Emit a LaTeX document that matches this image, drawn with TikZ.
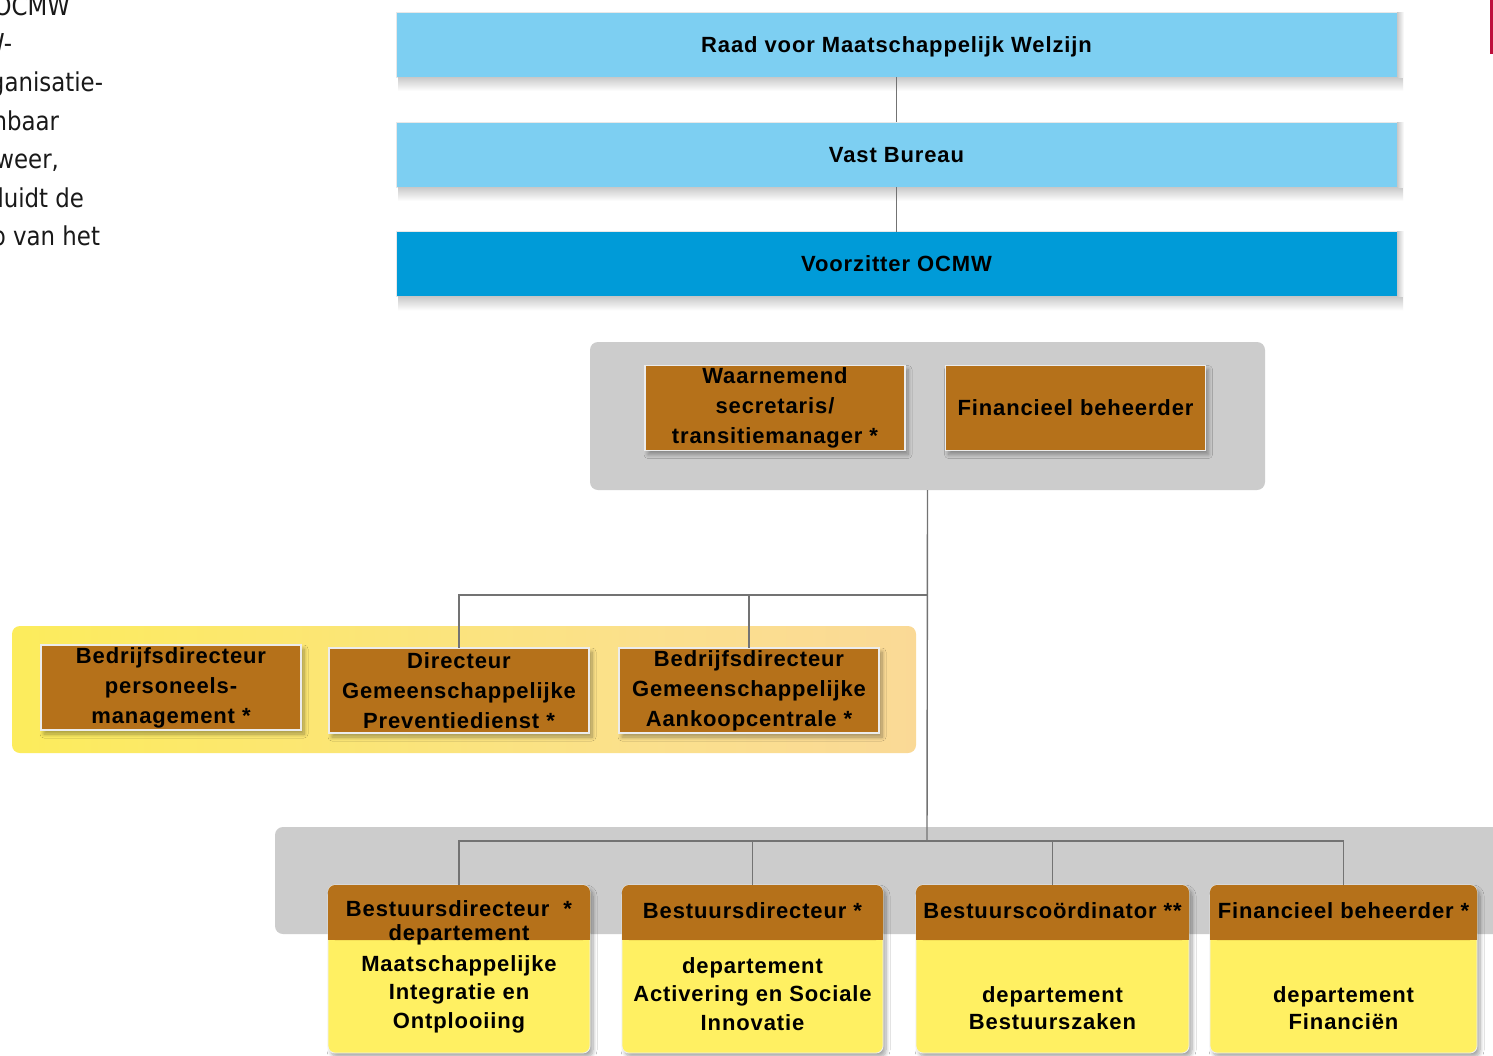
\documentclass[tikz,border=0pt]{standalone}
\usepackage{fontspec}
\usetikzlibrary{shadows.blur}
\newfontfamily\boxfont{Liberation Sans}[LetterSpace=4]
\newfontfamily\leftfont{DejaVu Sans}[FakeStretch=0.88]
\definecolor{lblue}{RGB}{125,207,242}
\definecolor{dblue}{RGB}{0,155,216}
\definecolor{brownbox}{RGB}{181,113,26}
\definecolor{yellowbox}{RGB}{255,240,98}
\definecolor{panelgray}{RGB}{204,204,204}
\definecolor{linegray}{RGB}{115,115,115}
\definecolor{redbar}{RGB}{190,16,60}
\definecolor{shadowgray}{RGB}{200,200,200}
\definecolor{yl1}{RGB}{252,223,140}
\definecolor{yl2}{RGB}{252,236,92}
\definecolor{yl3}{RGB}{251,224,140}
\definecolor{yl4}{RGB}{249,206,168}
\pgfdeclarehorizontalshading{ypanel}{100bp}{color(0bp)=(yl1); color(25bp)=(yl2); color(60bp)=(yl3); color(100bp)=(yl4)}
\tikzset{
  every node/.style={inner sep=0pt, outer sep=0pt},
  txt/.style={font=\boxfont\bfseries\fontsize{22}{30}\selectfont, text=black, align=center},
  bluebox/.style={rectangle, minimum width=1001pt, minimum height=65pt, draw=white!82!gray, line width=0.8pt, txt},
  blueshadow/.style={top color=shadowgray, bottom color=white},
  brownnode/.style={rectangle, fill=brownbox, draw=white!85!gray, line width=1.2pt, minimum width=260pt, minimum height=85pt,
    txt, blur shadow={shadow xshift=3pt, shadow yshift=-4pt, shadow blur radius=4pt, shadow blur steps=8, shadow opacity=35}},
  panel/.style={rectangle, rounded corners=8pt, fill=panelgray},
  botbox/.style={rectangle, rounded corners=7pt, fill=yellowbox, draw=white!88!gray, line width=0.8pt, minimum height=168pt,
    blur shadow={shadow xshift=3pt, shadow yshift=-4pt, shadow blur radius=4pt, shadow blur steps=8, shadow opacity=35}},
  hdr/.style={rectangle, rounded corners=7pt, fill=brownbox, minimum height=55pt},
  conn/.style={draw=linegray, line width=1.4pt},
  lefttxt/.style={font=\leftfont\fontsize{26}{26}\selectfont, anchor=base east, text=black!90}
}
\begin{document}
\begin{tikzpicture}[x=1pt,y=-1pt]
\useasboundingbox (0,0) rectangle (1493,1055);
\fill[white] (0,0) rectangle (1493,1055);
% left clipped text
\node[lefttxt] (l1) at (70,15) {OCMW};
\node[lefttxt] (l2) at (12,52) {W-};
\node[lefttxt] (l3) at (103,91) {ganisatie-};
\node[lefttxt] (l4) at (59,130) {nbaar};
\node[lefttxt] (l5) at (59,168) {weer,};
\node[lefttxt] (l6) at (84,207) {duidt de};
\node[lefttxt] (l7) at (100,245) {p van het};
% red bar
\draw[redbar, line width=3pt] (1491,0) -- (1491,54);
% top blue boxes
\node[bluebox, fill=lblue, text depth=-2pt] (raad) at (896.5,44.5) {Raad voor Maatschappelijk Welzijn};
\node[bluebox, fill=lblue, text depth=-2pt] (vast) at (896.5,154.5) {Vast Bureau};
\node[bluebox, fill=dblue] (voorz) at (896.5,264) {Voorzitter OCMW};
\foreach \n in {raad,vast,voorz}{
  \shade[blueshadow] ([xshift=2pt]\n.south west) rectangle ([xshift=6pt,yshift=-14pt]\n.south east);
  \shade[left color=shadowgray, right color=white] (\n.north east) rectangle ([xshift=7pt]\n.south east);
}
\draw[conn] (raad.south) -- (vast.north);
\draw[conn] (vast.south) -- (voorz.north);
% panel 1
\node[panel, minimum width=675pt, minimum height=148pt] (p1) at (927.5,416) {};
\node[brownnode] (w1) at (775,408) {Waarnemend\\secretaris/\\transitiemanager *};
\node[brownnode] (w2) at (1075.5,408) {Financieel beheerder};
% yellow panel
\node[rectangle, rounded corners=8pt, shading=ypanel, minimum width=904pt, minimum height=127pt] (yp) at (464,689.5) {};
\node[brownnode] (y1) at (171,687.5) {Bedrijfsdirecteur\\personeels-\\management *};
\node[brownnode] (y2) at (459,690.5) {Directeur\\Gemeenschappelijke\\Preventiedienst *};
\node[brownnode] (y3) at (749,690.5) {Bedrijfsdirecteur\\Gemeenschappelijke\\Aankoopcentrale *};
% bottom panel
\node[panel, minimum width=1250pt, minimum height=107pt] (p2) at (900,880.5) {};
\node[botbox, minimum width=262pt] (b1) at (459,969) {};
\node[botbox, minimum width=261pt] (b2) at (752.5,969) {};
\node[botbox, minimum width=273pt] (b3) at (1052.5,969) {};
\node[botbox, minimum width=267pt] (b4) at (1343.5,969) {};
\foreach \b/\w in {1/262,2/261,3/273,4/267}{
  \node[hdr, minimum width=\w pt] (h\b) at ([yshift=-27.5pt]b\b.north) {};
  \fill[brownbox] (h\b.west) rectangle (h\b.south east);
}
\node[txt, font=\boxfont\bfseries\fontsize{22}{24}\selectfont] (t1a) at (459,923) {Bestuursdirecteur \ *\\departement};
\node[txt, font=\boxfont\bfseries\fontsize{22}{28.5}\selectfont] (t1b) at (459,994) {Maatschappelijke\\Integratie en\\Ontplooiing};
\node[txt] (t2a) at (752.5,911) {Bestuursdirecteur *};
\node[txt, font=\boxfont\bfseries\fontsize{22}{28.5}\selectfont] (t2b) at (752.5,994) {departement\\Activering en Sociale\\Innovatie};
\node[txt] (t3a) at (1052.5,911) {Bestuurscoördinator **};
\node[txt, font=\boxfont\bfseries\fontsize{22}{27}\selectfont] (t3b) at (1052.5,1008.5) {departement\\Bestuurszaken};
\node[txt] (t4a) at (1343.5,911) {Financieel beheerder *};
\node[txt, font=\boxfont\bfseries\fontsize{22}{27}\selectfont] (t4b) at (1343.5,1008.5) {departement\\Financiën};
% connectors
\coordinate (j1) at (927,595);
\coordinate (j2) at (927,841);
\draw[conn] (p1.south) -- (j2);
\draw[conn] (y2.north) |- (j1);
\draw[conn] (y3.north) -- (y3.north |- j1);
\draw[conn] (h1.north) |- (j2);
\draw[conn] (h4.north) |- (j2);
\draw[conn] (h2.north) -- (h2.north |- j2);
\draw[conn] (h3.north) -- (h3.north |- j2);
\end{tikzpicture}
\end{document}
